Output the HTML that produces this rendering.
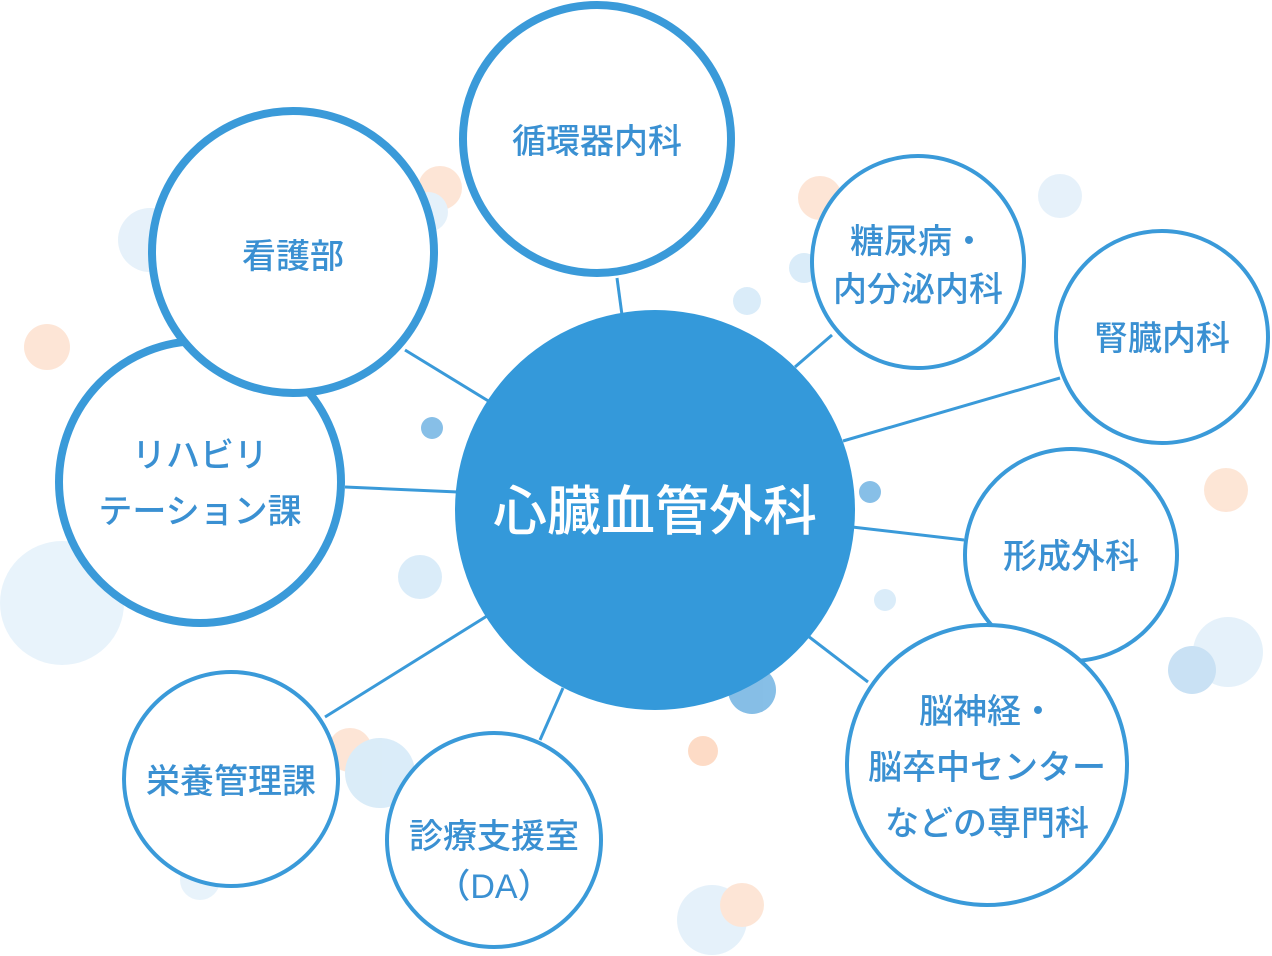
<!DOCTYPE html>
<html><head><meta charset="utf-8"><style>
html,body{margin:0;padding:0;background:#fff;}
svg{display:block;}
text{font-family:"Liberation Sans","Noto Sans CJK JP",sans-serif;font-weight:500;fill:#3a90d2;text-anchor:middle;}
</style></head><body>
<svg width="1272" height="956" viewBox="0 0 1272 956">
<g opacity="0.9">
<circle cx="440" cy="188" r="22" fill="#fde3d2"/>
<circle cx="428" cy="212" r="20" fill="#e3f0fa"/>
<circle cx="150" cy="240" r="32" fill="#e3f0fa"/>
<circle cx="47" cy="347" r="23" fill="#fde3d2"/>
<circle cx="62" cy="603" r="62" fill="#e6f2fb"/>
<circle cx="432" cy="428" r="11" fill="#7ab8e4"/>
<circle cx="420" cy="577" r="22" fill="#d6eaf8"/>
<circle cx="820" cy="198" r="22" fill="#fde3d2"/>
<circle cx="804" cy="268" r="15" fill="#d6eaf8"/>
<circle cx="747" cy="301" r="14" fill="#d6eaf8"/>
<circle cx="1060" cy="196" r="22" fill="#e3f0fa"/>
<circle cx="1226" cy="490" r="22" fill="#fde3d2"/>
<circle cx="870" cy="492" r="11" fill="#7ab8e4"/>
<circle cx="885" cy="600" r="11" fill="#d6eaf8"/>
<circle cx="1228" cy="652" r="35" fill="#e3f0fa"/>
<circle cx="1192" cy="670" r="24" fill="#c4def3"/>
<circle cx="752" cy="690" r="24" fill="#7ab8e4"/>
<circle cx="703" cy="751" r="15" fill="#fdd8c0"/>
<circle cx="350" cy="750" r="22" fill="#fde3d2"/>
<circle cx="380" cy="773" r="35" fill="#d6eaf8"/>
<circle cx="712" cy="920" r="35" fill="#e3f0fa"/>
<circle cx="742" cy="905" r="22" fill="#fde3d2"/>
<circle cx="200" cy="880" r="20" fill="#e6f2fb"/>
</g>
<g stroke="#3a9ad9" stroke-width="3">
<line x1="617" y1="278" x2="622" y2="315"/>
<line x1="405" y1="350" x2="490" y2="402"/>
<line x1="345" y1="487" x2="458" y2="492"/>
<line x1="795" y1="367" x2="832" y2="335"/>
<line x1="843" y1="441" x2="1060" y2="378"/>
<line x1="852" y1="527" x2="964" y2="540"/>
<line x1="808" y1="636" x2="868" y2="682"/>
<line x1="325" y1="717" x2="487" y2="616"/>
<line x1="540" y1="740" x2="563" y2="688"/>
</g>
<circle cx="655" cy="510" r="200" fill="#3499da"/>
<text x="655" y="530" font-size="54" style="fill:#fff">心臓血管外科</text>
<g fill="#fff" stroke="#3a9ad9">
<circle cx="597" cy="139" r="134" stroke-width="8"/>
<circle cx="200" cy="482" r="141" stroke-width="8"/>
<circle cx="293" cy="252" r="141" stroke-width="8"/>
<circle cx="918" cy="262" r="106" stroke-width="4"/>
<circle cx="1162" cy="337" r="106" stroke-width="4"/>
<circle cx="1071" cy="555" r="106" stroke-width="4"/>
<circle cx="987" cy="765" r="140" stroke-width="4"/>
<circle cx="231" cy="779" r="107" stroke-width="4"/>
<circle cx="494" cy="840" r="107" stroke-width="4"/>
</g>
<g font-size="34">
<text x="597" y="153">循環器内科</text>
<text x="293" y="268">看護部</text>
<text x="200" y="467">リハビリ</text>
<text x="200" y="523">テーション課</text>
<text x="918" y="253">糖尿病・</text>
<text x="918" y="301">内分泌内科</text>
<text x="1162" y="350">腎臓内科</text>
<text x="1071" y="568">形成外科</text>
<text x="987" y="723">脳神経・</text>
<text x="987" y="779">脳卒中センター</text>
<text x="987" y="835">などの専門科</text>
<text x="231" y="793">栄養管理課</text>
<text x="494" y="848">診療支援室</text>
<text x="494" y="898">（DA）</text>
</g>
</svg>
</body></html>
